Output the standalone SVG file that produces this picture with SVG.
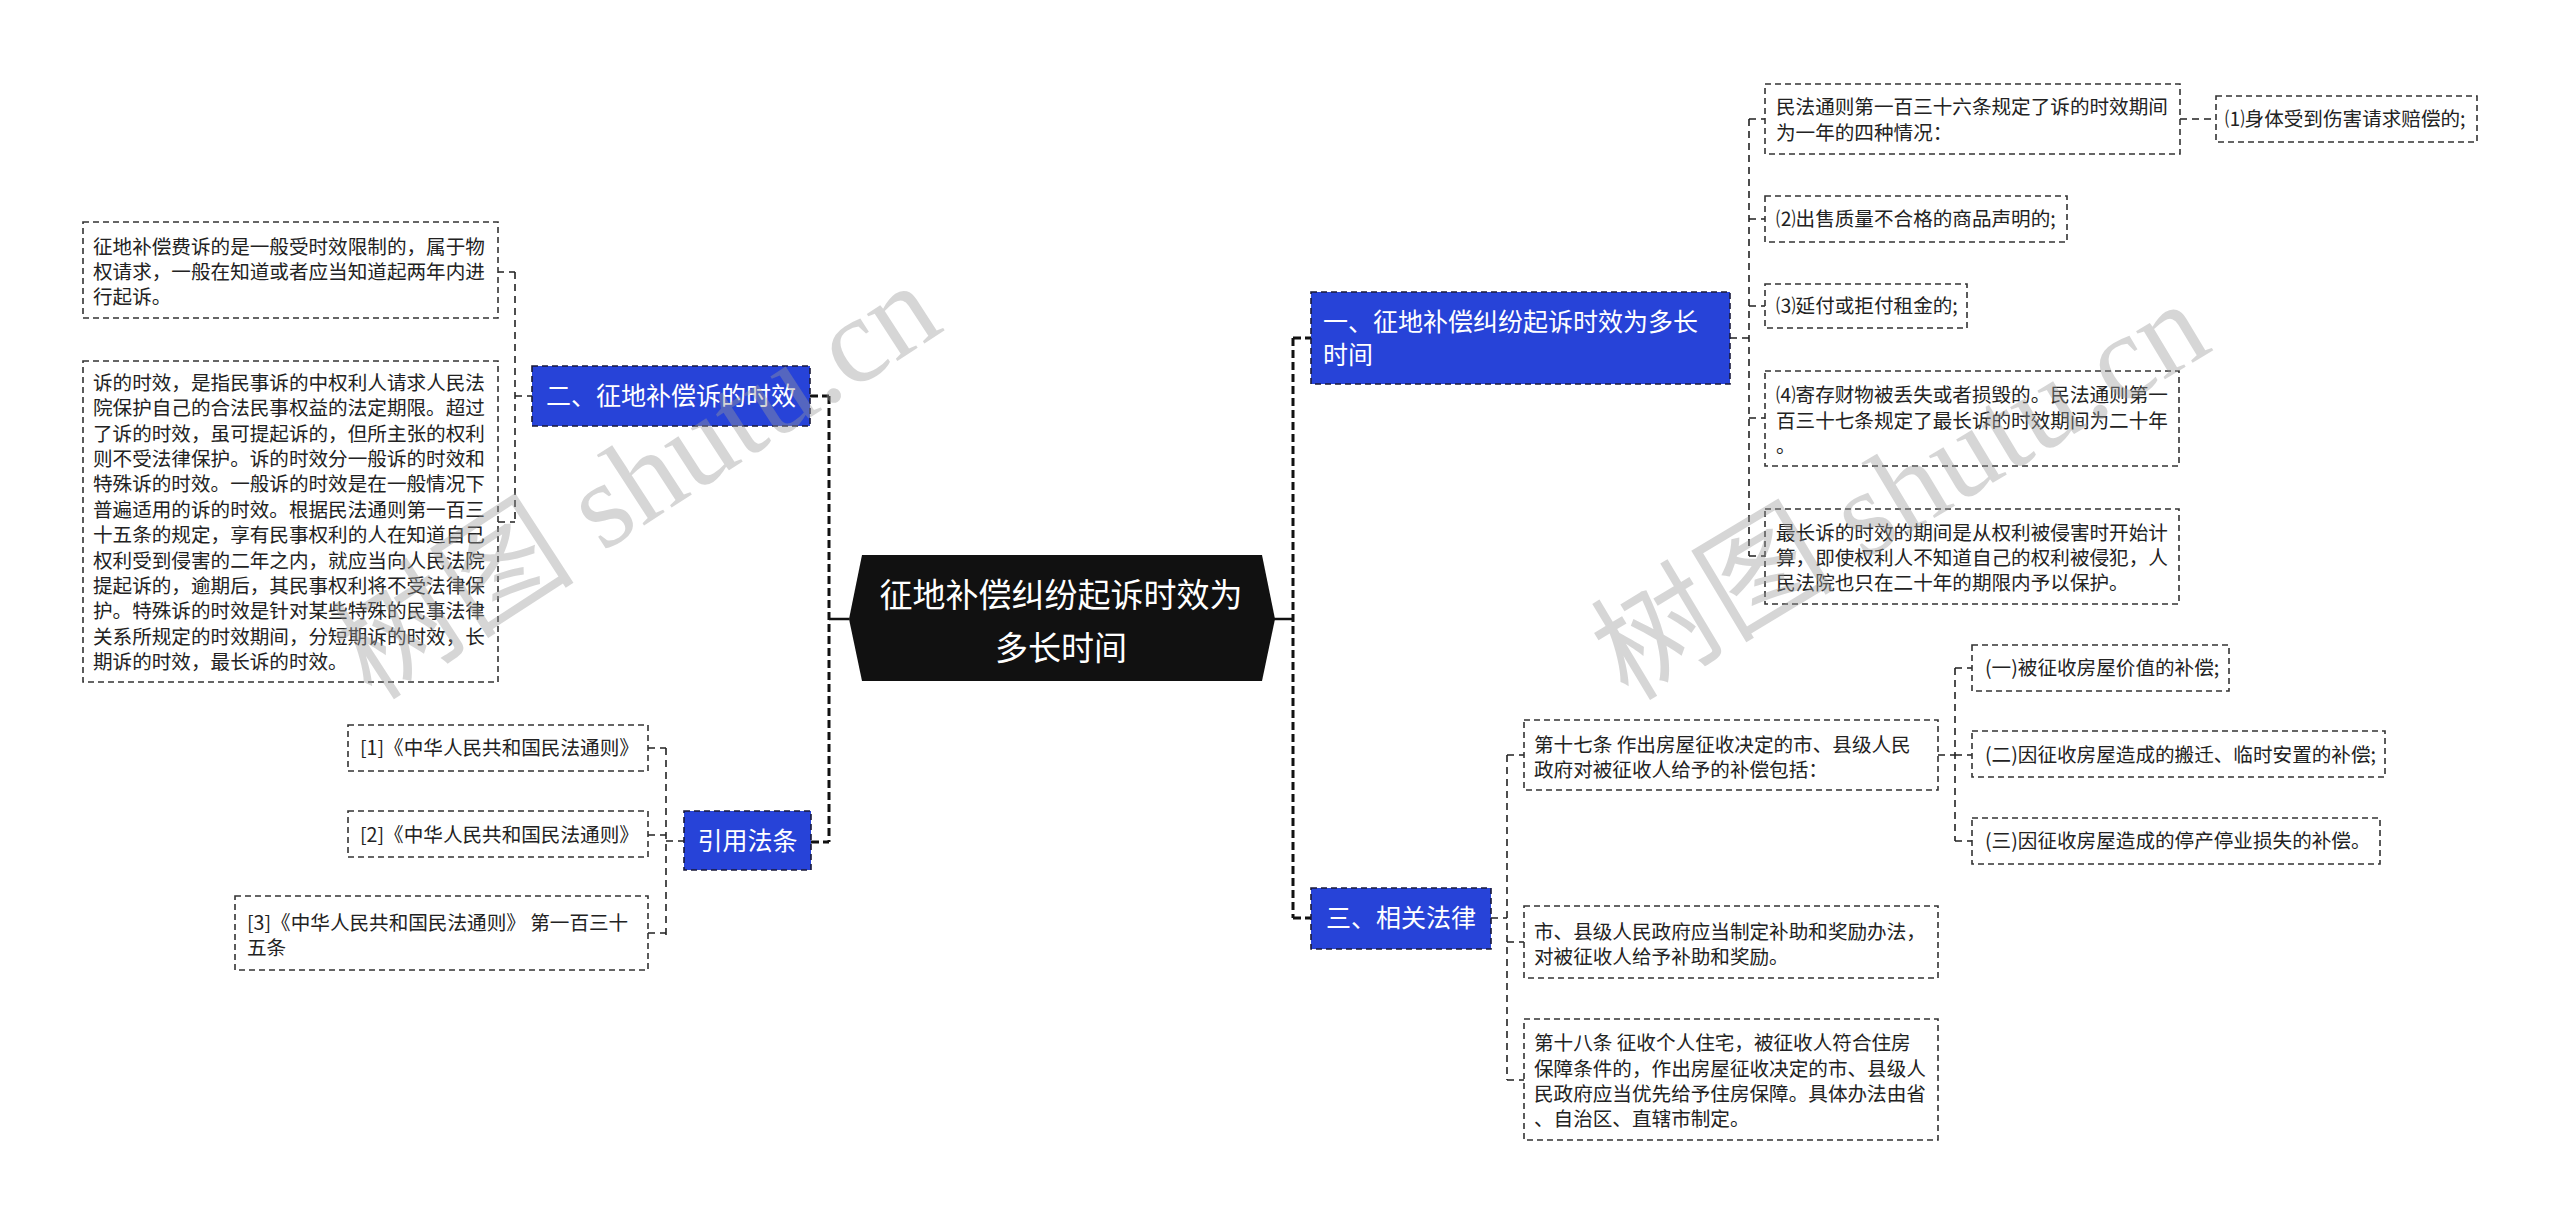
<svg xmlns="http://www.w3.org/2000/svg" width="2560" height="1224" viewBox="0 0 2560 1224">
<style>
text{font-family:"Noto Sans CJK SC","Noto Sans",sans-serif;}
.box{fill:#fff;stroke:#333;stroke-width:1.6;stroke-dasharray:6 4;}
.blue{fill:#2743d8;stroke:#1a1a3a;stroke-width:1.6;stroke-dasharray:6 4;}
.t{font-size:19.6px;fill:#222;}
.bt{font-size:25px;fill:#fff;}
.ct{font-size:33px;fill:#fff;text-anchor:middle;}
.trunk{fill:none;stroke:#111;stroke-width:3;stroke-dasharray:8 4;}
.sub{fill:none;stroke:#222;stroke-width:1.6;stroke-dasharray:7 5;}
.solid{fill:none;stroke:#111;stroke-width:2.5;}
.wm{font-size:122px;fill:#9a9a9a;opacity:0.4;font-family:"Liberation Serif","Noto Sans CJK SC",serif;}
</style>
<rect width="2560" height="1224" fill="#fff"/>
<g id="connectors">
<path class="solid" d="M829 619H849M1273 619H1293"/>
<path class="trunk" d="M829 396V842M810 396H829M811 842H829"/>
<path class="trunk" d="M1293 338V918M1293 338H1311M1293 918H1311"/>
<path class="sub" d="M515 272V522M497 272H515M498 522H515M515 396H532"/>
<path class="sub" d="M666 748V935M648 748H666M648 835H666M648 933H666M666 841H684"/>
<path class="sub" d="M1749 119V556M1730 338H1749M1749 119H1765M1749 219H1765M1749 306H1765M1749 418H1765M1749 556H1765"/>
<path class="sub" d="M2180 119H2216"/>
<path class="sub" d="M1507 755V1080M1491 918H1507M1507 755H1524M1507 942H1524M1507 1080H1524"/>
<path class="sub" d="M1955 668V841M1938 755H1955M1955 668H1972M1955 755H1972M1955 841H1972"/>
</g>
<g id="center">
<polygon points="849,619 862,555 1262,555 1275,619 1262,681 862,681" fill="#111"/>
<text class="ct" x="1061" y="607">征地补偿纠纷起诉时效为</text>
<text class="ct" x="1061" y="660">多长时间</text>
</g>
<g id="n2">
<rect class="blue" x="532" y="366" width="278" height="60"/>
<text class="bt" x="671" y="405" text-anchor="middle">二、征地补偿诉的时效</text>
</g>
<g id="n2a">
<rect class="box" x="83" y="222" width="415" height="96"/>
<text class="t" x="93" y="254">征地补偿费诉的是一般受时效限制的，属于物</text>
<text class="t" x="93" y="279">权请求，一般在知道或者应当知道起两年内进</text>
<text class="t" x="93" y="304">行起诉。</text>
</g>
<g id="n2b">
<rect class="box" x="83" y="361" width="415" height="321"/>
<text class="t" x="93" y="390">诉的时效，是指民事诉的中权利人请求人民法</text>
<text class="t" x="93" y="415.4">院保护自己的合法民事权益的法定期限。超过</text>
<text class="t" x="93" y="440.7">了诉的时效，虽可提起诉的，但所主张的权利</text>
<text class="t" x="93" y="466.1">则不受法律保护。诉的时效分一般诉的时效和</text>
<text class="t" x="93" y="491.4">特殊诉的时效。一般诉的时效是在一般情况下</text>
<text class="t" x="93" y="516.8">普遍适用的诉的时效。根据民法通则第一百三</text>
<text class="t" x="93" y="542.2">十五条的规定，享有民事权利的人在知道自己</text>
<text class="t" x="93" y="567.5">权利受到侵害的二年之内，就应当向人民法院</text>
<text class="t" x="93" y="592.9">提起诉的，逾期后，其民事权利将不受法律保</text>
<text class="t" x="93" y="618.2">护。特殊诉的时效是针对某些特殊的民事法律</text>
<text class="t" x="93" y="643.6">关系所规定的时效期间，分短期诉的时效，长</text>
<text class="t" x="93" y="669">期诉的时效，最长诉的时效。</text>
</g>
<g id="n3">
<rect class="blue" x="684" y="811" width="127" height="59"/>
<text class="bt" x="747.5" y="850" text-anchor="middle">引用法条</text>
</g>
<g id="n3a">
<rect class="box" x="348" y="725" width="300" height="46"/>
<text class="t" x="360" y="755">[1]《中华人民共和国民法通则》</text>
</g>
<g id="n3b">
<rect class="box" x="348" y="811" width="300" height="46"/>
<text class="t" x="360" y="842">[2]《中华人民共和国民法通则》</text>
</g>
<g id="n3c">
<rect class="box" x="235" y="896" width="413" height="74"/>
<text class="t" x="247" y="930">[3]《中华人民共和国民法通则》 第一百三十</text>
<text class="t" x="247" y="955">五条</text>
</g>
<g id="n1">
<rect class="blue" x="1311" y="292" width="419" height="92"/>
<text class="bt" x="1323" y="331">一、征地补偿纠纷起诉时效为多长</text>
<text class="bt" x="1323" y="364">时间</text>
</g>
<g id="n1a">
<rect class="box" x="1765" y="84" width="415" height="70"/>
<text class="t" x="1776" y="114">民法通则第一百三十六条规定了诉的时效期间</text>
<text class="t" x="1776" y="140">为一年的四种情况：</text>
</g>
<g id="n1a1">
<rect class="box" x="2216" y="96" width="261" height="46"/>
<text class="t" x="2225" y="126">⑴身体受到伤害请求赔偿的;</text>
</g>
<g id="n1b">
<rect class="box" x="1765" y="196" width="302" height="46"/>
<text class="t" x="1776" y="226">⑵出售质量不合格的商品声明的;</text>
</g>
<g id="n1c">
<rect class="box" x="1765" y="284" width="202" height="44"/>
<text class="t" x="1776" y="313">⑶延付或拒付租金的;</text>
</g>
<g id="n1d">
<rect class="box" x="1765" y="371" width="414" height="95"/>
<text class="t" x="1776" y="402">⑷寄存财物被丢失或者损毁的。民法通则第一</text>
<text class="t" x="1776" y="428">百三十七条规定了最长诉的时效期间为二十年</text>
<text class="t" x="1776" y="453">。</text>
</g>
<g id="n1e">
<rect class="box" x="1765" y="509" width="414" height="95"/>
<text class="t" x="1776" y="540">最长诉的时效的期间是从权利被侵害时开始计</text>
<text class="t" x="1776" y="565">算，即使权利人不知道自己的权利被侵犯，人</text>
<text class="t" x="1776" y="590">民法院也只在二十年的期限内予以保护。</text>
</g>
<g id="n4">
<rect class="blue" x="1311" y="888" width="180" height="61"/>
<text class="bt" x="1401" y="927" text-anchor="middle">三、相关法律</text>
</g>
<g id="n4a">
<rect class="box" x="1524" y="720" width="414" height="70"/>
<text class="t" x="1534" y="752">第十七条 作出房屋征收决定的市、县级人民</text>
<text class="t" x="1534" y="777">政府对被征收人给予的补偿包括：</text>
</g>
<g id="n4a1">
<rect class="box" x="1972" y="645" width="257" height="46"/>
<text class="t" x="1985" y="675">(一)被征收房屋价值的补偿;</text>
</g>
<g id="n4a2">
<rect class="box" x="1972" y="731" width="413" height="46"/>
<text class="t" x="1985" y="762">(二)因征收房屋造成的搬迁、临时安置的补偿;</text>
</g>
<g id="n4a3">
<rect class="box" x="1972" y="818" width="408" height="46"/>
<text class="t" x="1985" y="848">(三)因征收房屋造成的停产停业损失的补偿。</text>
</g>
<g id="n4b">
<rect class="box" x="1524" y="906" width="414" height="72"/>
<text class="t" x="1534" y="939">市、县级人民政府应当制定补助和奖励办法，</text>
<text class="t" x="1534" y="964">对被征收人给予补助和奖励。</text>
</g>
<g id="n4c">
<rect class="box" x="1524" y="1019" width="414" height="121"/>
<text class="t" x="1534" y="1050">第十八条 征收个人住宅，被征收人符合住房</text>
<text class="t" x="1534" y="1076">保障条件的，作出房屋征收决定的市、县级人</text>
<text class="t" x="1534" y="1101">民政府应当优先给予住房保障。具体办法由省</text>
<text class="t" x="1534" y="1126">、自治区、直辖市制定。</text>
</g>
<g id="watermarks">
<text class="wm" transform="translate(372 702) rotate(-33)">树图 shutu.cn</text>
<text class="wm" transform="translate(1628 702) rotate(-31)">树图 shutu.cn</text>
</g>
</svg>
